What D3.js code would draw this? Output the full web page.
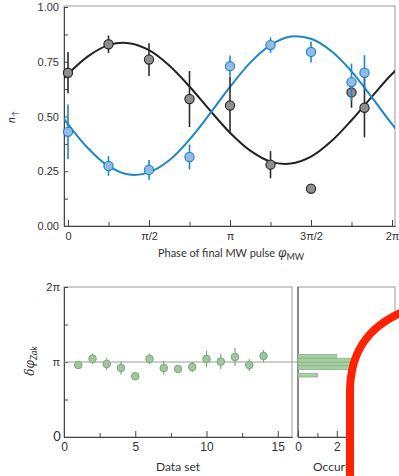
<!DOCTYPE html>
<html>
<head>
<meta charset="utf-8">
<script src="https://cdn.jsdelivr.net/npm/d3@7"></script>
<style>
body { margin: 0; background: #fff; }
svg { font-family: Lato, "Open Sans", sans-serif; }
.axis text { fill: #333; }
.axis line, .axis path { stroke: #444; }
</style>
</head>
<body>
<script>
// ---- data (phases in units of pi) ----
var phaseTop = [0, 0.25, 0.5, 0.75, 1, 1.25, 1.5, 1.75, 1.83];
var nUpBlack = [0.70, 0.83, 0.76, 0.58, 0.55, 0.28, 0.17, 0.61, 0.54];
var errBlack = [0.094, 0.04, 0.075, 0.128, 0.13, 0.062, 0, 0.07, 0.135];
var nUpBlue = [0.43, 0.274, 0.256, 0.315, 0.73, 0.826, 0.795, 0.657, 0.70];
var errBlue = [0.125, 0.045, 0.045, 0.057, 0.048, 0.035, 0.048, 0.085, 0.08];

// fitted curves, read every pi/8
var fitPhase = [-0.125, 0, 0.125, 0.25, 0.375, 0.5, 0.625, 0.75, 0.875, 1, 1.125, 1.25, 1.375, 1.5, 1.625, 1.75, 1.875, 2, 2.125];
var fitBlack = [0.591, 0.694, 0.776, 0.826, 0.835, 0.803, 0.733, 0.637, 0.529, 0.426, 0.344, 0.294, 0.285, 0.317, 0.387, 0.483, 0.590, 0.694, 0.776];
var fitBlue = [0.588, 0.465, 0.354, 0.273, 0.235, 0.245, 0.300, 0.395, 0.512, 0.635, 0.746, 0.826, 0.865, 0.855, 0.799, 0.706, 0.588, 0.465, 0.354];

var dataSet = [1, 2, 3, 4, 5, 6, 7, 8, 9, 10, 11, 12, 13, 14];
var zakPhase = [0.96, 1.045, 0.973, 0.92, 0.81, 1.04, 0.92, 0.907, 0.933, 1.04, 1.005, 1.067, 0.96, 1.08];
var zakErr = [0.03, 0.07, 0.08, 0.09, 0.02, 0.07, 0.09, 0.04, 0.07, 0.11, 0.1, 0.12, 0.08, 0.08];

var histBin = [0.80, 0.85, 0.90, 0.95, 1.00, 1.05]; // bin start, width 0.05 pi
var histCount = [1, 0, 4, 3, 4, 2];

var piTicksTop = [0, 0.5, 1, 1.5, 2];
var piLabelsTop = ["0", "\u03c0/2", "\u03c0", "3\u03c0/2", "2\u03c0"];

var PI = Math.PI;
var svg = d3.select("body").append("svg")
  .attr("width", 399)
  .attr("height", 476);

// ================= top panel =================
var xTop = d3.scaleLinear().domain([-0.0776, 2 * PI + 0.058]).range([64, 395]);
var yTop = d3.scaleLinear().domain([0, 1]).range([226, 7]);

svg.append("rect")
  .attr("x", 64).attr("y", 6).attr("width", 331).attr("height", 220)
  .attr("fill", "none").attr("stroke", "#999").attr("stroke-width", 1);

svg.append("clipPath").attr("id", "clipTop")
  .append("rect").attr("x", 64).attr("y", 6).attr("width", 331).attr("height", 220);

// minor ticks
svg.append("g").attr("class", "axis").attr("transform", "translate(0,226)")
  .call(d3.axisBottom(xTop).tickValues([0.25, 0.75, 1.25, 1.75].map(function (d) { return d * PI; }))
    .tickSizeInner(-4).tickSizeOuter(0).tickFormat(""));
svg.append("g").attr("class", "axis").attr("transform", "translate(0,226)")
  .call(d3.axisBottom(xTop).tickValues(piTicksTop.map(function (d) { return d * PI; }))
    .tickSizeInner(-6).tickSizeOuter(0).tickPadding(6)
    .tickFormat(function (d, i) { return piLabelsTop[i]; }))
  .style("font-size", "11px");

svg.append("g").attr("class", "axis").attr("transform", "translate(64,0)")
  .call(d3.axisLeft(yTop).tickValues([0, 0.125, 0.25, 0.375, 0.5, 0.625, 0.75, 0.875, 1])
    .tickSizeInner(-4).tickSizeOuter(0).tickPadding(5)
    .tickFormat(function (d) { return (d * 4) % 1 === 0 ? d3.format(".2f")(d) : ""; }))
  .style("font-size", "11px");

// fits
var lineTop = d3.line()
  .x(function (d) { return xTop(d[0] * PI); })
  .y(function (d) { return yTop(d[1]); })
  .curve(d3.curveCatmullRom);
var fits = svg.append("g").attr("clip-path", "url(#clipTop)");
fits.append("path")
  .datum(fitPhase.map(function (p, i) { return [p, fitBlack[i]]; }))
  .attr("d", lineTop).attr("fill", "none").attr("stroke", "#222").attr("stroke-width", 2);
fits.append("path")
  .datum(fitPhase.map(function (p, i) { return [p, fitBlue[i]]; }))
  .attr("d", lineTop).attr("fill", "none").attr("stroke", "#1f86c6").attr("stroke-width", 2);

// error bars + points
function drawSeries(vals, errs, stroke) {
  var g = svg.append("g");
  g.selectAll("line").data(phaseTop).enter().append("line")
    .attr("x1", function (d) { return xTop(d * PI); })
    .attr("x2", function (d) { return xTop(d * PI); })
    .attr("y1", function (d, i) { return yTop(vals[i] + errs[i]); })
    .attr("y2", function (d, i) { return yTop(vals[i] - errs[i]); })
    .attr("stroke", stroke).attr("stroke-width", 1.6);
  return g;
}
var gBlack = drawSeries(nUpBlack, errBlack, "#2b2b2b");
var gBlue = drawSeries(nUpBlue, errBlue, "#1f86c6");
gBlack.selectAll("circle").data(phaseTop).enter().append("circle")
  .attr("cx", function (d) { return xTop(d * PI); })
  .attr("cy", function (d, i) { return yTop(nUpBlack[i]); })
  .attr("r", 4.6).attr("fill", "#8e8e8e").attr("stroke", "#2b2b2b").attr("stroke-width", 1.2);
gBlue.selectAll("circle").data(phaseTop).enter().append("circle")
  .attr("cx", function (d) { return xTop(d * PI); })
  .attr("cy", function (d, i) { return yTop(nUpBlue[i]); })
  .attr("r", 4.6).attr("fill", "#93bbe6").attr("stroke", "#1f86c6").attr("stroke-width", 1.2);

// titles
var tx = svg.append("text").attr("x", 231).attr("y", 257)
  .attr("text-anchor", "middle").attr("fill", "#333").style("font-size", "11px");
tx.append("tspan").text("Phase of final MW pulse ");
tx.append("tspan").attr("font-style", "italic").attr("font-family", "DejaVu Serif").style("font-size", "12px").text("\u03c6");
tx.append("tspan").attr("dy", 3).style("font-size", "9px").text("MW");

var ty = svg.append("text").attr("transform", "translate(15,117) rotate(-90)")
  .attr("text-anchor", "middle").attr("fill", "#333").style("font-size", "11px");
ty.append("tspan").attr("font-style", "italic").text("n");
ty.append("tspan").attr("dy", 3).style("font-size", "8px").text("\u2191");

// ================= bottom-left panel =================
var xB = d3.scaleLinear().domain([0, 16]).range([64, 292]);
var yB = d3.scaleLinear().domain([0, 2]).range([437, 287]);

svg.append("rect")
  .attr("x", 64).attr("y", 287).attr("width", 228).attr("height", 150)
  .attr("fill", "none").attr("stroke", "#999");

svg.append("g").attr("class", "axis").attr("transform", "translate(0,437)")
  .call(d3.axisBottom(xB).tickValues([2.5, 7.5, 12.5]).tickSizeInner(-4).tickSizeOuter(0).tickFormat(""));
svg.append("g").attr("class", "axis").attr("transform", "translate(0,437)")
  .call(d3.axisBottom(xB).tickValues([0, 5, 10, 15]).tickSizeInner(-6).tickSizeOuter(0).tickPadding(5)
    .tickFormat(d3.format("d")))
  .style("font-size", "12px");
svg.append("g").attr("class", "axis").attr("transform", "translate(64,0)")
  .call(d3.axisLeft(yB).tickValues([0, 0.5, 1, 1.5, 2]).tickSizeInner(-4).tickSizeOuter(0).tickPadding(4)
    .tickFormat(function (d) { return d === 1 ? "\u03c0" : d === 2 ? "2\u03c0" : ""; }))
  .style("font-size", "11px");
svg.append("text").attr("x", 57).attr("y", 441).attr("text-anchor", "middle")
  .attr("fill", "#333").style("font-size", "13px").text("0");

// pi reference line through both panels
svg.append("line")
  .attr("x1", 64).attr("x2", 395).attr("y1", yB(1)).attr("y2", yB(1))
  .attr("stroke", "#9a9a9a").attr("stroke-width", 1);

var gZ = svg.append("g");
gZ.selectAll("line").data(dataSet).enter().append("line")
  .attr("x1", function (d) { return xB(d); })
  .attr("x2", function (d) { return xB(d); })
  .attr("y1", function (d, i) { return yB(zakPhase[i] + zakErr[i]); })
  .attr("y2", function (d, i) { return yB(zakPhase[i] - zakErr[i]); })
  .attr("stroke", "#7aa977").attr("stroke-width", 1.2);
gZ.selectAll("circle").data(dataSet).enter().append("circle")
  .attr("cx", function (d) { return xB(d); })
  .attr("cy", function (d, i) { return yB(zakPhase[i]); })
  .attr("r", 3.8).attr("fill", "#9fc79c").attr("stroke", "#7aa977").attr("stroke-width", 1);

svg.append("text").attr("x", 178).attr("y", 471).attr("text-anchor", "middle")
  .attr("fill", "#333").style("font-size", "12px").text("Data set");

var tz = svg.append("text").attr("transform", "translate(34,361) rotate(-90)")
  .attr("text-anchor", "middle").attr("fill", "#333").style("font-size", "12px");
tz.append("tspan").attr("font-style", "italic").attr("font-family", "DejaVu Serif").text("\u03b4\u03c6");
tz.append("tspan").attr("dy", 3).attr("font-style", "italic").style("font-size", "9px").text("Zak");

// ================= histogram panel =================
var xH = d3.scaleLinear().domain([0, 5]).range([298, 395]);

svg.append("rect")
  .attr("x", 298).attr("y", 287).attr("width", 97).attr("height", 150)
  .attr("fill", "none").attr("stroke", "#999");

svg.append("g").attr("class", "axis").attr("transform", "translate(0,437)")
  .call(d3.axisBottom(xH).tickValues([1, 3]).tickSizeInner(-4).tickSizeOuter(0).tickFormat(""));
svg.append("g").attr("class", "axis").attr("transform", "translate(0,437)")
  .call(d3.axisBottom(xH).tickValues([0, 2, 4]).tickSizeInner(-6).tickSizeOuter(0).tickPadding(5)
    .tickFormat(d3.format("d")))
  .style("font-size", "12px");
svg.append("line").attr("x1", 298).attr("x2", 298).attr("y1", 287).attr("y2", 437)
  .attr("stroke", "#444");

svg.append("g").selectAll("rect").data(histBin).enter().append("rect")
  .attr("x", xH(0))
  .attr("y", function (d) { return yB(d + 0.05); })
  .attr("width", function (d, i) { return xH(histCount[i]) - xH(0); })
  .attr("height", function (d) { return yB(d) - yB(d + 0.05); })
  .attr("fill", "#a8cea5").attr("stroke", "#86b583").attr("stroke-width", 0.8);

svg.append("text").attr("x", 313).attr("y", 471)
  .attr("fill", "#333").style("font-size", "12px").text("Occurrences");

// ================= red overlay mark =================
svg.append("path")
  .attr("d", "M350,480 L350,392 C350,350 370,325 405,311 L405,480 Z")
  .attr("fill", "#fff");
svg.append("path")
  .attr("d", "M350,480 L350,392 C350,350 370,325 405,311")
  .attr("fill", "none").attr("stroke", "#ff2200").attr("stroke-width", 8);
</script>
</body>
</html>
